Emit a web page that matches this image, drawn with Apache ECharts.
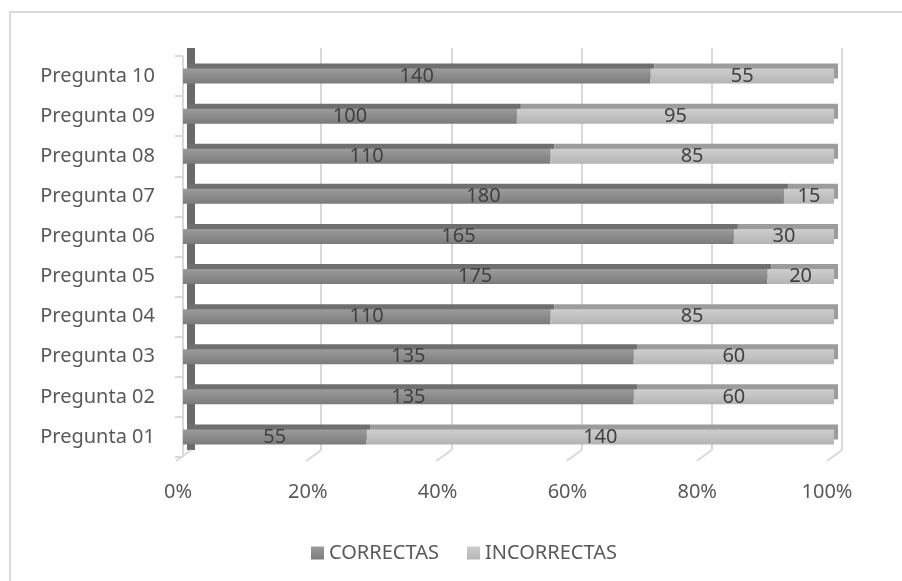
<!DOCTYPE html>
<html>
<head>
<meta charset="utf-8">
<script src="https://cdn.jsdelivr.net/npm/echarts@6/dist/echarts.min.js"></script>
<style>
html,body{margin:0;padding:0;background:#fff;}
#wrap{position:relative;width:902px;height:581px;overflow:hidden;}
#chart{width:902px;height:581px;}
#frame{position:absolute;left:9px;top:11px;width:900px;height:600px;border-top:2px solid #d9d9d9;border-left:2px solid #d9d9d9;pointer-events:none;}
</style>
</head>
<body>
<div id="wrap"><div id="chart"></div><div id="frame"></div></div>
<script>
var categories = ['Pregunta 01','Pregunta 02','Pregunta 03','Pregunta 04','Pregunta 05','Pregunta 06','Pregunta 07','Pregunta 08','Pregunta 09','Pregunta 10'];
var correctas = [55,135,135,110,175,165,180,110,100,140];
var incorrectas = [140,60,60,85,20,30,15,85,95,55];
var xTicks = [0,20,40,60,80,100];

var FONT = '"Noto Sans", "Open Sans", sans-serif';
function pct(arr, i){ return (arr[i] / (correctas[i] + incorrectas[i])) * 100; }
var corrPct = correctas.map(function(v,i){ return {value: pct(correctas,i), raw: v}; });
var incPct = incorrectas.map(function(v,i){ return {value: pct(incorrectas,i), raw: v}; });

function grad(c1,c2,c3){
  return new echarts.graphic.LinearGradient(0,0,0,1,[
    {offset:0,color:c1},{offset:0.45,color:c2},{offset:1,color:c3}
  ]);
}

var chart = echarts.init(document.getElementById('chart'), null, {renderer:'canvas'});
chart.setOption({
  backgroundColor:'#ffffff',
  animation:false,
  textStyle:{fontFamily:FONT},
  grid:[
    {left:191, right:60, top:48, bottom:131},
    {left:183, right:68, top:56, bottom:124},
    {left:178, right:75, top:56, bottom:124}
  ],
  xAxis:[
    {gridIndex:0, type:'value', min:0, max:100, interval:20,
     axisLine:{show:false}, axisTick:{show:false}, axisLabel:{show:false},
     splitLine:{show:true, lineStyle:{color:'#d9d9d9', width:2}}},
    {gridIndex:1, type:'value', min:0, max:100, interval:20,
     axisLine:{show:false}, axisTick:{show:false}, axisLabel:{show:false}, splitLine:{show:false}},
    {gridIndex:2, type:'value', min:0, max:100, interval:20,
     axisLine:{show:false}, axisTick:{show:false}, splitLine:{show:false},
     axisLabel:{show:true, margin:25, fontSize:20, color:'#595959', fontFamily:FONT,
       formatter:function(v){ return v + '%'; }}}
  ],
  yAxis:[
    {gridIndex:0, type:'value', min:0, max:1, offset:3,
     axisLine:{show:true, lineStyle:{color:'#6a6a6a', width:8, cap:'butt'}},
     axisTick:{show:false}, axisLabel:{show:false}, splitLine:{show:false}},
    {gridIndex:1, type:'category', data:categories, offset:5,
     axisLine:{show:true, lineStyle:{color:'#d9d9d9', width:2, cap:'butt'}},
     axisTick:{show:true, length:8, lineStyle:{color:'#d9d9d9', width:2}},
     axisLabel:{margin:23, fontSize:20, color:'#595959', fontFamily:FONT},
     splitLine:{show:false}},
    {gridIndex:2, type:'category', data:categories, show:false}
  ],
  legend:{
    left:306, top:538, itemWidth:13, itemHeight:13, itemGap:28,
    icon:'rect',
    textStyle:{fontSize:20, color:'#595959', fontFamily:FONT},
    itemStyle:{shadowBlur:0, shadowOffsetX:0, shadowOffsetY:0, shadowColor:'rgba(0,0,0,0)'},
    data:['CORRECTAS','INCORRECTAS']
  },
  series:[
    {
      type:'custom', xAxisIndex:0, yAxisIndex:0, silent:true, z:1,
      data:xTicks,
      renderItem:function(params, api){
        var p = api.coord([api.value(0), 0]);
        return {type:'line', shape:{x1:p[0], y1:p[1], x2:p[0]-15, y2:p[1]+11},
          style:{stroke:'#d9d9d9', lineWidth:2}};
      }
    },
    {
      name:'CORRECTAS', type:'bar', stack:'t', xAxisIndex:1, yAxisIndex:1,
      barWidth:15, data:corrPct,
      itemStyle:{color:grad('#9c9c9c','#8d8d8d','#7b7b7b'),
        shadowColor:'#6f6f6f', shadowBlur:0, shadowOffsetX:4, shadowOffsetY:-5},
      label:{show:true, position:'inside', fontSize:20, color:'#404040', fontFamily:FONT,
        formatter:function(p){ return p.data.raw; }}
    },
    {
      name:'INCORRECTAS', type:'bar', stack:'t', xAxisIndex:1, yAxisIndex:1,
      barWidth:15, data:incPct,
      itemStyle:{color:grad('#cdcdcd','#c3c3c3','#b4b4b4'),
        shadowColor:'#9c9c9c', shadowBlur:0, shadowOffsetX:4, shadowOffsetY:-5},
      label:{show:true, position:'inside', fontSize:20, color:'#404040', fontFamily:FONT,
        formatter:function(p){ return p.data.raw; }}
    }
  ]
});
</script>
</body>
</html>
